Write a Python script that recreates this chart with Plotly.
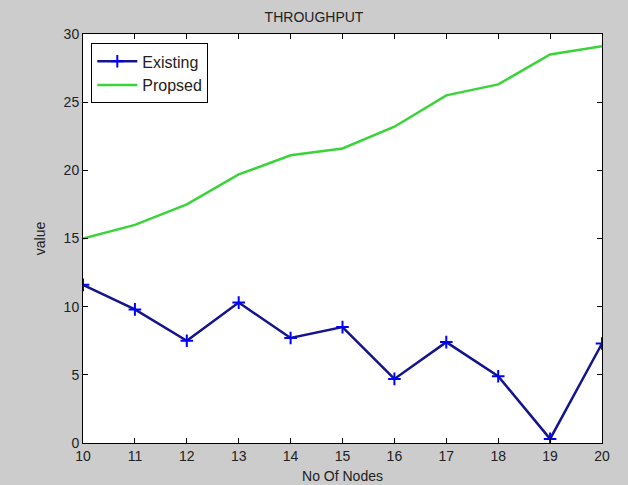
import plotly.graph_objects as go

nodes = [10, 11, 12, 13, 14, 15, 16, 17, 18, 19, 20]
existing = [11.6, 9.8, 7.5, 10.3, 7.7, 8.5, 4.7, 7.4, 4.9, 0.3, 7.3]
proposed = [15.0, 16.0, 17.5, 19.7, 21.1, 21.6, 23.2, 25.5, 26.3, 28.5, 29.1]

x_ticks = list(range(10, 21))
y_ticks = [0, 5, 10, 15, 20, 25, 30]

fig = go.Figure()
fig.add_trace(go.Scatter(
    x=nodes, y=existing, name="Existing", mode="lines+markers",
    line=dict(color="#14148c", width=2.5),
    marker=dict(symbol="cross-thin", size=9, color="#0000ff",
                line=dict(color="#0000ff", width=2)),
))
fig.add_trace(go.Scatter(
    x=nodes, y=proposed, name="Propsed", mode="lines",
    line=dict(color="#3ad43a", width=2.5),
))

font = "Liberation Sans, Arial, sans-serif"
axis_common = dict(
    showgrid=False, zeroline=False, showline=True, linecolor="black",
    linewidth=1, mirror="ticks", ticks="inside", ticklen=5, automargin=False,
    tickcolor="black", tickfont=dict(family=font, size=14, color="#222"),
)
fig.update_layout(
    width=628, height=485,
    paper_bgcolor="#cccccc", plot_bgcolor="white",
    margin=dict(l=83, r=26, t=34, b=42),
    title=dict(text="THROUGHPUT", x=0.5, xanchor="center", y=0.965,
               yanchor="middle", font=dict(family=font, size=14, color="#222")),
    xaxis=dict(range=[10, 20], tickvals=x_ticks,
               title=dict(text="No Of Nodes", standoff=8,
                          font=dict(family=font, size=14, color="#222")),
               **axis_common),
    yaxis=dict(range=[0, 30], tickvals=y_ticks,
               title=dict(text="value", standoff=14,
                          font=dict(family=font, size=14, color="#222")),
               **axis_common),
    legend=dict(x=0.016, y=0.977, xanchor="left", yanchor="top",
                bgcolor="white", bordercolor="black", borderwidth=1,
                font=dict(family=font, size=16, color="#222"),
                tracegroupgap=0, itemwidth=40),
    showlegend=True,
)

fig.write_html("out.html")
